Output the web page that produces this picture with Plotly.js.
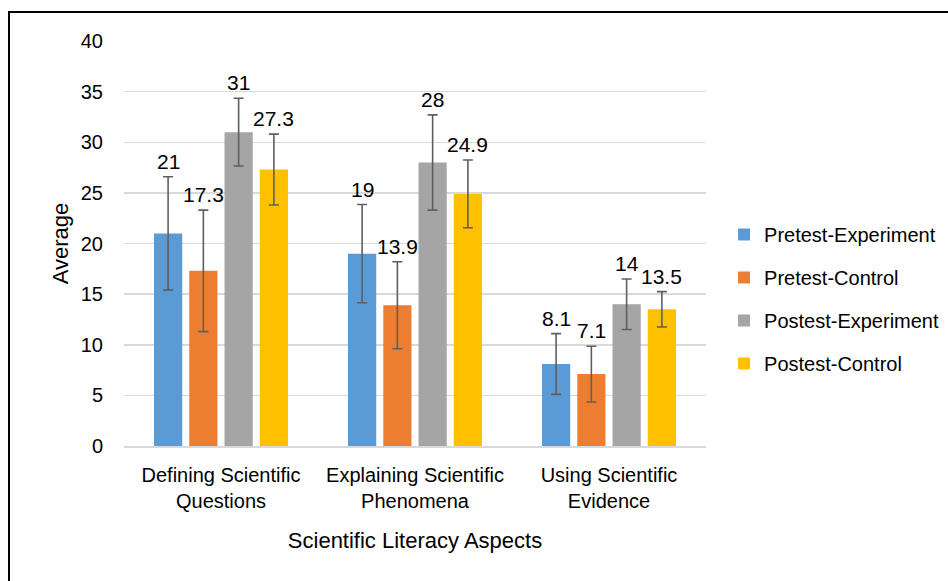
<!DOCTYPE html>
<html>
<head>
<meta charset="utf-8">
<script src="https://cdn.plot.ly/plotly-3.0.1.min.js"></script>
<style>
  html, body { margin: 0; padding: 0; background: #fff; }
  #chart { position: absolute; left: 0; top: 0; width: 948px; height: 581px; }
  #frame { position: absolute; left: 8px; top: 11px; width: 940px; height: 570px;
           border-left: 2px solid #000; border-top: 2px solid #000; pointer-events: none; box-sizing: border-box; }
</style>
</head>
<body>
<div id="chart"></div>
<div id="frame"></div>
<script>
const categories = ["Defining Scientific<br>Questions", "Explaining Scientific<br>Phenomena", "Using Scientific<br>Evidence"];
const seriesNames = ["Pretest-Experiment", "Pretest-Control", "Postest-Experiment", "Postest-Control"];
const pretestExperiment = [21, 19, 8.1];
const pretestControl = [17.3, 13.9, 7.1];
const postestExperiment = [31, 28, 14];
const postestControl = [27.3, 24.9, 13.5];
const errPretestExperiment = [5.6, 4.85, 3.0];
const errPretestControl = [6.0, 4.3, 2.75];
const errPostestExperiment = [3.35, 4.7, 2.5];
const errPostestControl = [3.5, 3.35, 1.75];
const yTicks = [0, 5, 10, 15, 20, 25, 30, 35, 40];

const values = [pretestExperiment, pretestControl, postestExperiment, postestControl];
const errors = [errPretestExperiment, errPretestControl, errPostestExperiment, errPostestControl];
const colors = ["#5b9bd5", "#ed7d31", "#a5a5a5", "#ffc000"];
const FONT = "Liberation Sans, Arial, sans-serif";

const bargap = 0.273;
const traces = values.map((v, i) => ({
  type: "bar",
  name: seriesNames[i],
  x: categories,
  y: v,
  marker: { color: colors[i] },
  legendgroup: "g" + i,
  error_y: { type: "data", array: errors[i], visible: true, color: "#5f5f5f", thickness: 1.6, width: 5 },
  hoverinfo: "y+name"
}));

// label annotations above error bars
const annotations = [];
const nS = values.length;
const slot = (1 - bargap) / nS;
values.forEach((v, i) => {
  const off = -((1 - bargap) / 2) + slot * (i + 0.5);
  v.forEach((val, j) => {
    annotations.push({
      xref: "x", yref: "y",
      x: j + off, y: val + errors[i][j],
      text: String(val),
      showarrow: false,
      yanchor: "bottom",
      yshift: 2,
      font: { family: FONT, size: 21, color: "#000" }
    });
  });
});

const layout = {
  width: 948, height: 581,
  margin: { l: 124, r: 242, t: 41, b: 135, pad: 0, autoexpand: false },
  paper_bgcolor: "#fff", plot_bgcolor: "#fff",
  barmode: "group",
  bargap: bargap,
  bargroupgap: 0.2,
  font: { family: FONT, size: 20, color: "#000" },
  xaxis: {
    type: "category",
    tickfont: { family: FONT, size: 20, color: "#000" },
    ticklabelstandoff: 10,
    showline: true, linecolor: "#d9d9d9", linewidth: 1.5,
    title: { text: "Scientific Literacy Aspects", font: { family: FONT, size: 22, color: "#000" }, standoff: 22 },
    automargin: false
  },
  yaxis: {
    range: [0, 40],
    tickvals: yTicks,
    tickfont: { family: FONT, size: 20, color: "#000" },
    ticklabelstandoff: 20,
    showgrid: true, gridcolor: "#d9d9d9", gridwidth: 1.5,
    zeroline: false,
    showline: false,
    title: { text: "Average", font: { family: FONT, size: 22, color: "#000" }, standoff: 6 },
    automargin: false
  },
  legend: {
    x: 1.031, xanchor: "left",
    y: 0.363, yanchor: "middle",
    font: { family: FONT, size: 20, color: "#000" },
    traceorder: "grouped",
    tracegroupgap: 14,
    bgcolor: "rgba(0,0,0,0)"
  },
  annotations: annotations,
  showlegend: true
};

Plotly.newPlot("chart", traces, layout, { displayModeBar: false, staticPlot: true });
</script>
</body>
</html>
